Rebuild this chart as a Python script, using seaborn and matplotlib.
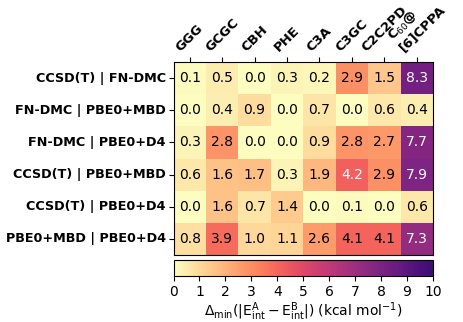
import numpy as np
import pandas as pd
import matplotlib
matplotlib.use("Agg")
import matplotlib.pyplot as plt
import seaborn as sns
from matplotlib.colors import LinearSegmentedColormap

systems = ["GGG", "GCGC", "CBH", "PHE", "C3A", "C3GC", "C2C2PD", "C$_{60}$@\n[6]CPPA"]
pairs = ["CCSD(T) | FN-DMC", "FN-DMC | PBE0+MBD", "FN-DMC | PBE0+D4",
         "CCSD(T) | PBE0+MBD", "CCSD(T) | PBE0+D4", "PBE0+MBD | PBE0+D4"]
row1 = [0.1, 0.5, 0.0, 0.3, 0.2, 2.9, 1.5, 8.3]
row2 = [0.0, 0.4, 0.9, 0.0, 0.7, 0.0, 0.6, 0.4]
row3 = [0.3, 2.8, 0.0, 0.0, 0.9, 2.8, 2.7, 7.7]
row4 = [0.6, 1.6, 1.7, 0.3, 1.9, 4.2, 2.9, 7.9]
row5 = [0.0, 1.6, 0.7, 1.4, 0.0, 0.1, 0.0, 0.6]
row6 = [0.8, 3.9, 1.0, 1.1, 2.6, 4.1, 4.1, 7.3]
cbar_ticks = [0, 1, 2, 3, 4, 5, 6, 7, 8, 9, 10]

df = pd.DataFrame([row1, row2, row3, row4, row5, row6], index=pairs, columns=systems)

base = plt.get_cmap("magma_r")
cmap = LinearSegmentedColormap.from_list("magma_trunc", base(np.linspace(0.0, 0.8, 256)))

W, H = 463, 322
fig = plt.figure(figsize=(W / 100, H / 100), dpi=100)
ax = fig.add_axes([173.5 / W, 1 - 255 / H, 259.5 / W, 193 / H])
cax = fig.add_axes([173.5 / W, 1 - 275.5 / H, 259.5 / W, 15.5 / H])

sns.heatmap(df, ax=ax, cmap=cmap, vmin=0, vmax=10, annot=True, fmt=".1f",
            annot_kws={"fontsize": 10}, cbar=True, cbar_ax=cax,
            cbar_kws={"orientation": "horizontal", "ticks": cbar_ticks})

# text colour: white above half of the normalised maximum
vals = df.values.ravel()
thresh = vals.max() / 2
for t in ax.texts:
    v = float(t.get_text())
    t.set_color("white" if v > thresh else "black")

ax.xaxis.tick_top()
ax.set_xticklabels(systems, rotation=45, ha="center", fontweight="bold",
                   fontsize=9.5, multialignment="left")
ax.set_yticklabels(pairs, rotation=0, fontweight="bold", fontsize=9.2)
ax.set_xlabel("")
ax.set_ylabel("")
ax.tick_params(axis="both", length=3.5, width=0.8, pad=2)
for s in ax.spines.values():
    s.set_visible(True)
    s.set_linewidth(0.8)

cax.tick_params(labelsize=10, length=3.5, width=0.8)
cax.set_xlabel(r"$\Delta_{\mathrm{min}}(|\mathrm{E}^{\mathrm{A}}_{\mathrm{int}} - \mathrm{E}^{\mathrm{B}}_{\mathrm{int}}|)$ (kcal mol$^{\mathrm{-1}}$)",
               fontsize=10, labelpad=1)
cb = ax.collections[0].colorbar
cb.outline.set_visible(True)
cb.outline.set_linewidth(0.8)

fig.savefig("out.png", dpi=100)
